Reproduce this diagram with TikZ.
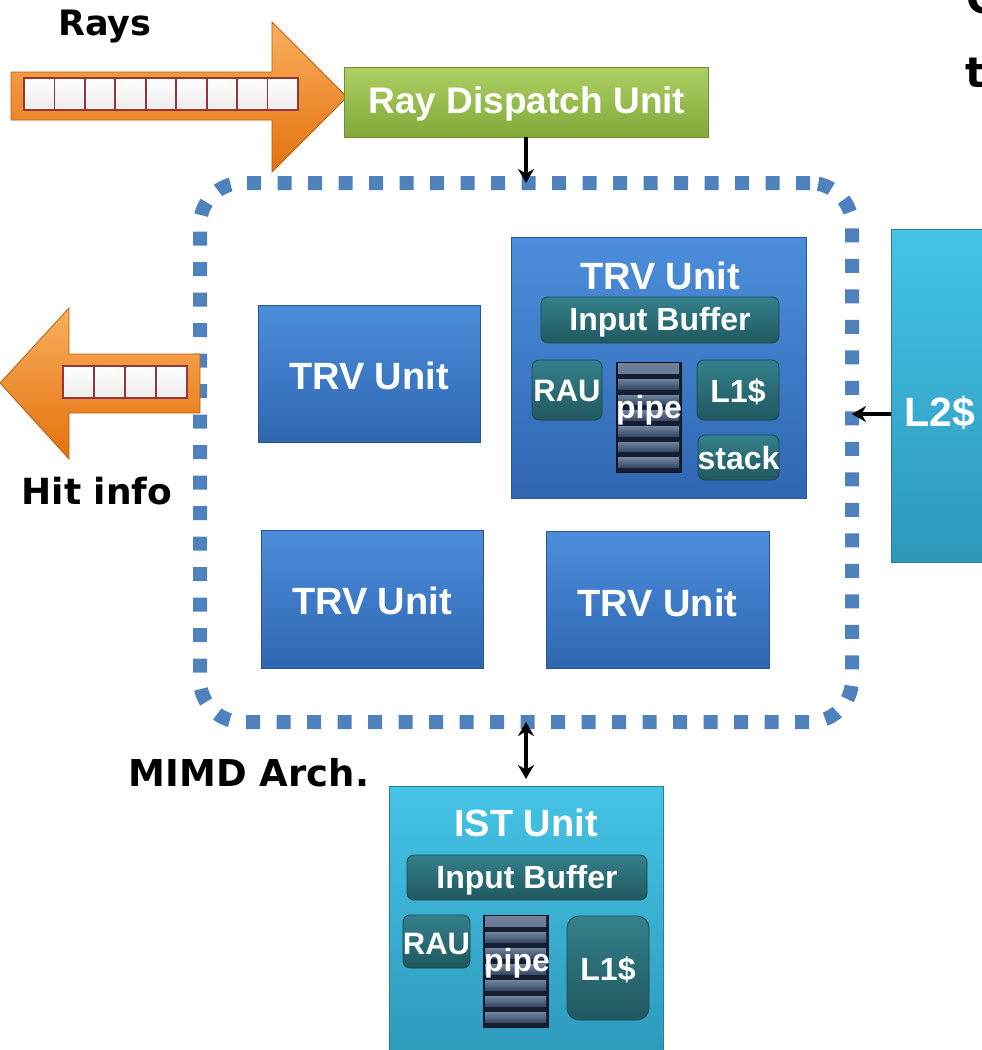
\documentclass[tikz,border=0pt]{standalone}
\usepackage{fontspec}
\setmainfont{Liberation Sans}
\newfontfamily\labfont{DejaVu Sans}
\usetikzlibrary{arrows.meta,calc}
\definecolor{orT}{HTML}{FAAE5E}
\definecolor{orB}{HTML}{E2720C}
\definecolor{orD}{HTML}{B85E12}
\definecolor{sqD}{HTML}{953735}
\definecolor{grT}{HTML}{ADD063}
\definecolor{grB}{HTML}{82A83A}
\definecolor{grD}{HTML}{6E8E32}
\definecolor{blT}{HTML}{4C8EDB}
\definecolor{blB}{HTML}{2F66B2}
\definecolor{blD}{HTML}{2A5590}
\definecolor{tlT}{HTML}{34808B}
\definecolor{tlB}{HTML}{20585F}
\definecolor{tlD}{HTML}{1A474E}
\definecolor{cyT}{HTML}{45C3E6}
\definecolor{cyB}{HTML}{2C98BA}
\definecolor{cyD}{HTML}{2A7F98}
\definecolor{pipeD}{HTML}{141E33}
\definecolor{pipeL}{HTML}{4C6283}
\definecolor{dotc}{HTML}{4F81BD}
\begin{document}
\begin{tikzpicture}[x=1pt,y=-1pt,
  every node/.style={inner sep=0pt, outer sep=0pt},
  wtxt/.style={text=white, font=\bfseries\fontsize{#1}{#1}\selectfont},
  wtxt/.default=31,
  blk/.style={text=black, font=\labfont\bfseries\fontsize{#1}{#1}\selectfont},
  blk/.default=36,
  gbox/.style={draw=grD, line width=0.8pt, top color=grT, bottom color=grB},
  trv/.style={draw=blD, line width=0.8pt, top color=blT, bottom color=blB},
  inner/.style={draw=tlD, line width=0.8pt, rounded corners=7pt, top color=tlT, bottom color=tlB},
  cyan/.style={draw=cyD, line width=0.8pt, top color=cyT, bottom color=cyB},
  orarrow/.style={draw=orD, line width=0.8pt, top color=orT, bottom color=orB},
  sq/.style={draw=sqD, line width=1.8pt, top color=white, bottom color=white!85!gray},
  pipebox/.style={fill=pipeD, draw=pipeD!60!black, line width=0.6pt,
    path picture={
      \foreach \i in {0,...,6}{
        \shade[top color=pipeL!80!white, bottom color=pipeL!60!pipeD] ($(path picture bounding box.north west)!{(\i+0.1)/7}!(path picture bounding box.south west)+(2,0)$)
          rectangle ($(path picture bounding box.north east)!{(\i+0.72)/7}!(path picture bounding box.south east)+(-2,0)$);
      }}},
  conn/.style={line width=4pt, -{Stealth[length=14pt,width=16pt]}},
  dconn/.style={line width=4pt, {Stealth[length=14pt,width=16pt]}-{Stealth[length=14pt,width=16pt]}}
]
\useasboundingbox (0,0) rectangle (982,1050);
\clip (0,0) rectangle (982,1050);

% top-right partial text
\node[blk=42, anchor=base west] (tc) at (966,13) {C};
\node[blk=42, anchor=base west] (tt) at (965,87) {t};

% Rays arrow
\node[blk=35] (rays) at (105,27) {Rays};
\path[orarrow] (11,72) -- (272,72) -- (272,22) -- (347,97) -- (272,172) -- (272,120) -- (11,120) -- cycle;
\foreach \i in {0,...,8}{
  \draw[sq] (24+\i*30.44,78) rectangle ++(30.44,32);
}

% Ray dispatch unit
\node[gbox, minimum width=364, minimum height=70] (rdu) at (526,102) {};
\node[wtxt=37] (rdut) at (527,104) {Ray Dispatch Unit};

% MIMD dotted region
\node[draw=dotc, line width=14pt, dash pattern=on 14pt off 16.5pt, rounded corners=42pt,
      minimum width=652, minimum height=539] (mimd) at (526,452.5) {};

% TRV units
\node[trv, minimum width=222, minimum height=137] (trv1) at (369,373.5) {};
\node[wtxt=38] (trv1t) at (369,376) {TRV Unit};
\node[trv, minimum width=222, minimum height=138] (trv3) at (372,599) {};
\node[wtxt=38] (trv3t) at (372,601) {TRV Unit};
\node[trv, minimum width=223, minimum height=137] (trv4) at (657.5,599.5) {};
\node[wtxt=38] (trv4t) at (657.5,603) {TRV Unit};

\node[trv, minimum width=295, minimum height=261] (trv2) at (658.5,367.5) {};
\node[wtxt=38] (trv2t) at (660,276) {TRV Unit};
\node[inner, minimum width=238, minimum height=46] (ib1) at (660,320) {};
\node[wtxt=32] (ib1t) at (660,322) {Input Buffer};
\node[inner, minimum width=70, minimum height=60] (rau1) at (567,390) {};
\node[wtxt=31] (rau1t) at (567,391) {RAU};
\node[pipebox, minimum width=65, minimum height=110] (pipe1) at (648.5,417) {};
\node[wtxt=32] (pipe1t) at (649,410) {pipe};
\node[inner, minimum width=82, minimum height=60] (l1a) at (738,390) {};
\node[wtxt=32] (l1at) at (738,392) {L1\$};
\node[inner, minimum width=81, minimum height=45] (stk) at (738.5,457.5) {};
\node[wtxt=32] (stkt) at (738.5,458) {stack};

% Hit info arrow
\path[orarrow] (200,354) -- (69,354) -- (69,308) -- (0,383) -- (69,459) -- (69,413) -- (200,413) -- cycle;
\foreach \i in {0,...,3}{
  \draw[sq] (63+\i*31,366) rectangle ++(31,32);
}
\node[blk=36] (hit) at (97,491) {Hit info};

% L2 cache
\node[cyan, minimum width=130, minimum height=333] (l2) at (956,395.5) {};
\node[wtxt=41] (l2t) at (940,413) {L2\$};
\draw[conn] ([yshift=-18.5pt]l2.west) -- ([yshift=-18.5pt]l2.west -| mimd.east);

% Dispatch arrow
\draw[conn] (rdu.south) -- (rdu.south |- mimd.north);

% MIMD label
\node[blk=37] (mimdl) at (249,773) {MIMD Arch.};

% IST unit
\node[cyan, minimum width=274, minimum height=280] (ist) at (526,926) {};
\node[wtxt=38] (istt) at (526,823) {IST Unit};
\node[inner, minimum width=240, minimum height=45] (ib2) at (527,877.5) {};
\node[wtxt=32] (ib2t) at (527,880) {Input Buffer};
\node[inner, minimum width=67, minimum height=53] (rau2) at (436.5,941.5) {};
\node[wtxt=31] (rau2t) at (436.5,944) {RAU};
\node[pipebox, minimum width=65, minimum height=112] (pipe2) at (515.5,971) {};
\node[wtxt=32] (pipe2t) at (517,963) {pipe};
\node[inner, minimum width=82, minimum height=104, rounded corners=12pt] (l1b) at (608,968) {};
\node[wtxt=32] (l1bt) at (608,970) {L1\$};

\draw[dconn, shorten <=7pt] (ist.north) -- (ist.north |- mimd.south);
\end{tikzpicture}
\end{document}
